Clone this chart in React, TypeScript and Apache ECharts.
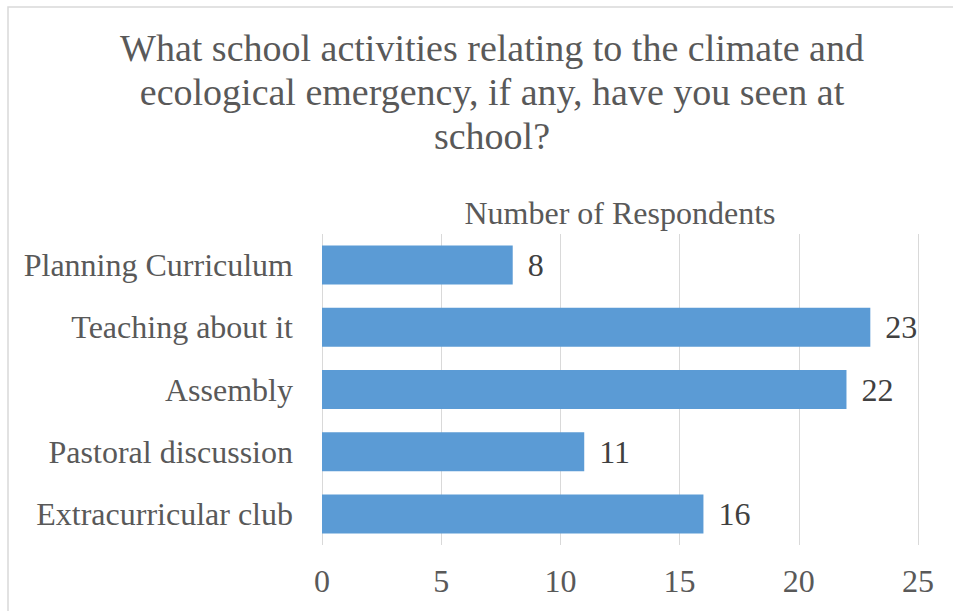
import React, { useEffect, useRef } from "react";
import * as echarts from "echarts";

const categories = [
  "Planning Curriculum",
  "Teaching about it",
  "Assembly",
  "Pastoral discussion",
  "Extracurricular club",
];
const respondents = [8, 23, 22, 11, 16];
const titleLines = [
  "What school activities relating to the climate and",
  "ecological emergency, if any, have you seen at",
  "school?",
];
const axisTitle = "Number of Respondents";

const FONT = "Liberation Serif";
const TEXT = "#595959";

export default function App() {
  const ref = useRef<HTMLDivElement>(null);
  useEffect(() => {
    document.body.style.margin = "0";
    const chart = echarts.init(ref.current!, null, { renderer: "svg" });
    chart.setOption({
      animation: false,
      backgroundColor: "#ffffff",
      textStyle: { fontFamily: FONT },
      graphic: [
        {
          type: "rect",
          shape: { x: 8, y: 7, width: 1000, height: 1000 },
          style: { fill: "none", stroke: "#D9D9D9", lineWidth: 1.5 },
          silent: true,
        },
        {
          type: "text",
          x: 492,
          y: 26,
          style: {
            text: titleLines.join("\n"),
            textAlign: "center",
            textVerticalAlign: "top",
            fontFamily: FONT,
            fontSize: 38,
            lineHeight: 44,
            fill: TEXT,
          },
        },
        {
          type: "text",
          x: 620,
          y: 213,
          style: {
            text: axisTitle,
            textAlign: "center",
            textVerticalAlign: "middle",
            fontFamily: FONT,
            fontSize: 32,
            fill: TEXT,
          },
        },
      ],
      grid: { left: 322, right: 35, top: 234, bottom: 66, containLabel: false },
      xAxis: {
        type: "value",
        min: 0,
        max: 25,
        interval: 5,
        axisLine: { show: false },
        axisTick: { show: false },
        splitLine: { lineStyle: { color: "#D9D9D9", width: 1 } },
        axisLabel: {
          color: TEXT,
          fontFamily: FONT,
          fontSize: 32,
          margin: 20,
        },
      },
      yAxis: {
        type: "category",
        data: categories,
        inverse: true,
        axisLine: { show: false },
        axisTick: { show: false },
        axisLabel: {
          color: TEXT,
          fontFamily: FONT,
          fontSize: 32,
          margin: 29,
        },
      },
      series: [
        {
          type: "bar",
          data: respondents,
          barWidth: 39,
          itemStyle: { color: "#5B9BD5" },
          label: {
            show: true,
            position: "right",
            distance: 15,
            color: "#404040",
            fontFamily: FONT,
            fontSize: 32,
          },
        },
      ],
    });
    return () => chart.dispose();
  }, []);
  return <div ref={ref} style={{ width: 953, height: 611 }} />;
}
